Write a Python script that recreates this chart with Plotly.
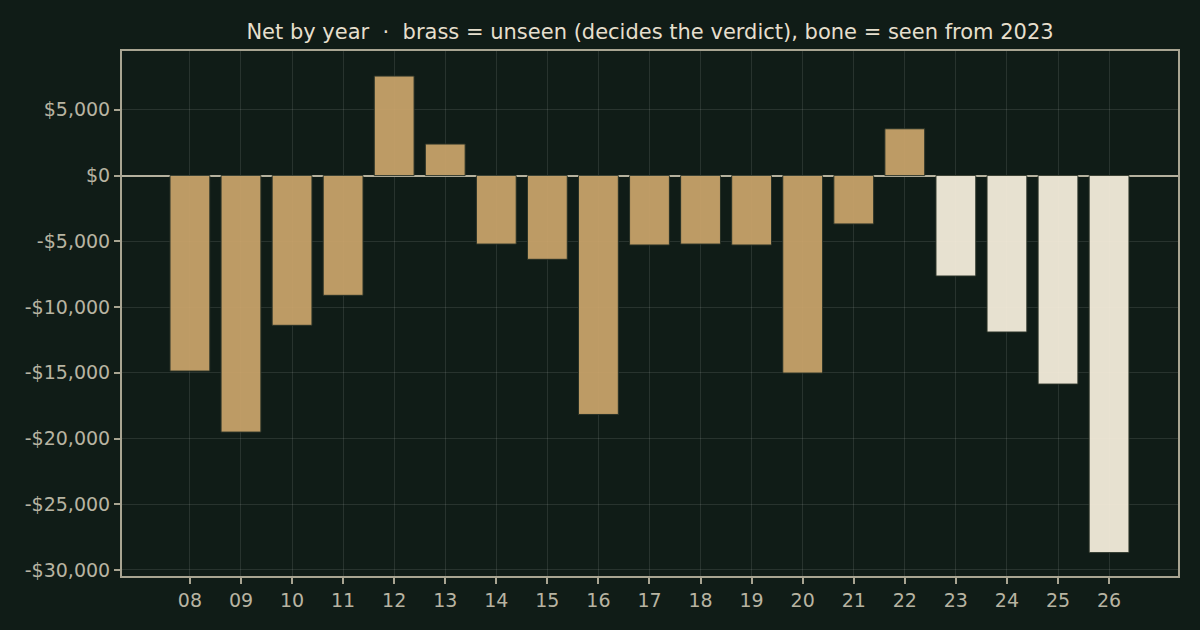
import plotly.graph_objects as go

years = ["08", "09", "10", "11", "12", "13", "14", "15", "16", "17",
         "18", "19", "20", "21", "22", "23", "24", "25", "26"]
net = [-14870, -19510, -11390, -9110, 7570, 2400, -5210, -6370, -18170, -5280,
       -5210, -5280, -15020, -3680, 3560, -7640, -11900, -15860, -28680]
seen = [False] * 15 + [True] * 4
y_ticks = [5000, 0, -5000, -10000, -15000, -20000, -25000, -30000]
y_tick_labels = ["$5,000", "$0", "-$5,000", "-$10,000", "-$15,000", "-$20,000", "-$25,000", "-$30,000"]

BRASS = "#cba56b"
BONE = "#f8f0de"
BG = "#101c17"
AX = "#a9a592"
TXT = "#b8b4a2"

colors = [BONE if s else BRASS for s in seen]

fig = go.Figure()
fig.add_trace(go.Bar(
    x=years, y=net,
    marker=dict(color=colors, opacity=0.93, line=dict(color="#2a3328", width=1)),
    width=0.78,
    hoverinfo="x+y",
))

fig.update_layout(
    width=1200, height=630,
    paper_bgcolor=BG, plot_bgcolor=BG,
    margin=dict(l=122, r=22, t=51, b=54),
    showlegend=False,
    font=dict(family="DejaVu Sans", color=TXT, size=19),
    title=dict(
        text="Net by year  ·  brass = unseen (decides the verdict), bone = seen from 2023",
        x=0.5417, xanchor="center", y=0.949, yanchor="middle",
        font=dict(family="DejaVu Sans", size=21, color="#e6dfcd"),
    ),
)

fig.update_xaxes(
    type="category",
    range=[-1.33, 19.35],
    showgrid=True, gridcolor="rgba(255,255,255,0.10)", gridwidth=1,
    showline=True, linecolor=AX, linewidth=2, mirror=True,
    ticks="outside", ticklen=6, tickcolor=AX, tickwidth=2,
    tickfont=dict(size=19, color=TXT),
    zeroline=False,
)
fig.update_yaxes(
    range=[-30457, 9475],
    tickvals=y_ticks, ticktext=y_tick_labels,
    showgrid=True, gridcolor="rgba(255,255,255,0.10)", gridwidth=1,
    showline=True, linecolor=AX, linewidth=2, mirror=True,
    ticks="outside", ticklen=6, tickcolor=AX, tickwidth=2,
    tickfont=dict(size=19, color=TXT),
    zeroline=True, zerolinecolor="#b5b19e", zerolinewidth=2,
)

fig.write_html("out.html", config={"displayModeBar": False})
with open("out.html", "r", encoding="utf-8") as f:
    html = f.read()
html = html.replace("<head>", "<head><style>html,body{margin:0;padding:0;background:#101c17;overflow:hidden;}</style>", 1)
with open("out.html", "w", encoding="utf-8") as f:
    f.write(html)
